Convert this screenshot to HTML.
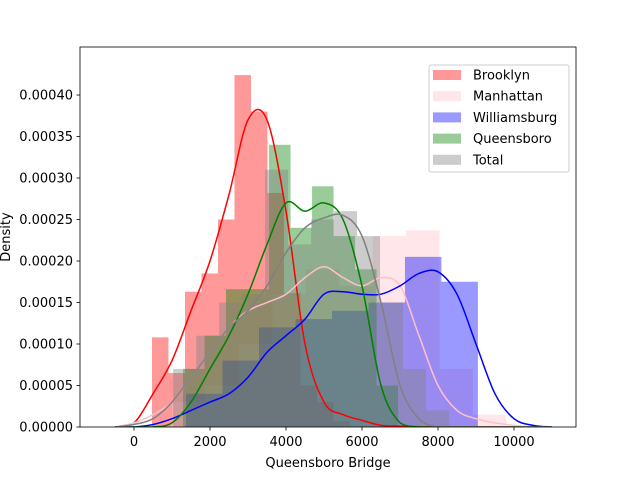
<!DOCTYPE html>
<html><head><meta charset="utf-8"><style>
body{margin:0;background:#fff}
svg{font-family:"DejaVu Sans","Liberation Sans",sans-serif;display:block}
</style></head><body>
<svg id="chart" width="640" height="480">
<rect x="0" y="0" width="640" height="480" fill="#fff"/>
<g id="plot"><g id="bars"></g><g id="lines"></g></g>
<g id="axes"></g>
</svg>
<script>
const tickX = [0, 2000, 4000, 6000, 8000, 10000];
const tickY = [0, 0.00005, 0.0001, 0.00015, 0.0002, 0.00025, 0.0003, 0.00035, 0.0004];
const tickYLabels = ["0.00000","0.00005","0.00010","0.00015","0.00020","0.00025","0.00030","0.00035","0.00040"];
const seriesNames = ["Brooklyn","Manhattan","Williamsburg","Queensboro","Total"];
const brooklynBinStart = 474, brooklynBinWidth = 434;
const brooklynHist = [0.000108,0.000065,0.000163,0.000185,0.00025,0.000424,0.00038,0.000282,0.000161,0.00005,0.00003,0.000007];
const manhattanBinStart = 1000, manhattanBinWidth = 880;
const manhattanHist = [0.00003,0.00005,0.0001,0.00016,0.00019,0.00017,0.00023,0.000237,0.00007,0.000015];
const williamsburgBinStart = 1370, williamsburgBinWidth = 960;
const williamsburgHist = [0.00004,0.00008,0.00012,0.00013,0.00014,0.00015,0.000205,0.000175];
const queensboroBinStart = 1290, queensboroBinWidth = 566;
const queensboroHist = [0.00007,0.00011,0.000166,0.000166,0.00034,0.00024,0.00029,0.00023,0.00019,0.00005];
const totalBinStart = 1030, totalBinWidth = 605;
const totalHist = [0.00007,0.00011,0.00015,0.00016,0.00031,0.00022,0.00025,0.00026,0.00023,0.00015,0.00007,0.00002];
const kdeX = [-500,0,500,1000,1500,2000,2500,3000,3500,4000,4500,5000,5500,6000,6500,7000,7500,8000,8500,9000,9500,10000,10500,11000];
const brooklynKde = [0,0.000005,0.00004,0.00008,0.00014,0.0002,0.00028,0.00037,0.00037,0.00026,0.0001,0.00003,0.000015,0.000008,0.000002,0.000001,0,0,0,0,0,0,0,0];
const manhattanKde = [0,0.000005,0.000015,0.00003,0.00006,0.00009,0.00012,0.00014,0.00015,0.00016,0.00018,0.000193,0.00018,0.00017,0.00018,0.00017,0.00011,0.00005,0.00002,0.00001,0.000005,0.000002,0,0];
const williamsburgKde = [0,0,0.000003,0.00001,0.00002,0.00003,0.00004,0.00006,0.00009,0.00011,0.00013,0.00016,0.000163,0.00016,0.00016,0.00017,0.000185,0.000187,0.00016,0.0001,0.00004,0.00001,0.000002,0];
const queensboroKde = [0,0,0,0.000005,0.00003,0.00007,0.00011,0.00016,0.00022,0.00027,0.00026,0.00027,0.00025,0.00017,0.00005,0.000005,0,0,0,0,0,0,0,0];
const totalKde = [0,0.000003,0.00001,0.00003,0.00006,0.00009,0.00012,0.00014,0.00017,0.00021,0.00024,0.000252,0.000255,0.00023,0.00015,0.00005,0.00001,0,0,0,0,0,0,0];

const X0=80,X1=576,Y0=47,Y1=427;
function sx(v){return 134+v*0.038;}
function sy(d){return 427-d*830000;}
const NS="http://www.w3.org/2000/svg";
function mk(tag,attrs,parent){const e=document.createElementNS(NS,tag);for(const k in attrs)e.setAttribute(k,attrs[k]);parent.appendChild(e);return e;}
const plot=document.getElementById('plot'), axes=document.getElementById('axes');
const barsG=document.getElementById('bars'), linesG=document.getElementById('lines');
const series=[
 {name:"brooklyn",hist:brooklynHist,start:brooklynBinStart,w:brooklynBinWidth,kde:brooklynKde,c:"#ff0000"},
 {name:"manhattan",hist:manhattanHist,start:manhattanBinStart,w:manhattanBinWidth,kde:manhattanKde,c:"#ffc0cb"},
 {name:"williamsburg",hist:williamsburgHist,start:williamsburgBinStart,w:williamsburgBinWidth,kde:williamsburgKde,c:"#0000ff"},
 {name:"queensboro",hist:queensboroHist,start:queensboroBinStart,w:queensboroBinWidth,kde:queensboroKde,c:"#008000"},
 {name:"total",hist:totalHist,start:totalBinStart,w:totalBinWidth,kde:totalKde,c:"#808080"}
];
series.forEach(s=>{
  s.hist.forEach((h,i)=>{
    const a=sx(s.start+i*s.w), b=sx(s.start+(i+1)*s.w);
    const r=mk('rect',{x:a,y:sy(h),width:b-a,height:sy(0)-sy(h),fill:s.c,'fill-opacity':0.4},barsG);
    
    
  });
  const pts=kdeX.map((x,i)=>[sx(x),sy(s.kde[i])]);
  let d="M"+pts[0][0]+","+pts[0][1];
  for(let i=0;i<pts.length-1;i++){
    const p0=pts[Math.max(i-1,0)],p1=pts[i],p2=pts[i+1],p3=pts[Math.min(i+2,pts.length-1)];
    const c1=[p1[0]+(p2[0]-p0[0])/6,p1[1]+(p2[1]-p0[1])/6], c2=[p2[0]-(p3[0]-p1[0])/6,p2[1]-(p3[1]-p1[1])/6];
    d+=` C${c1[0]},${Math.min(c1[1],427)} ${c2[0]},${Math.min(c2[1],427)} ${p2[0]},${p2[1]}`;
  }
  const l=mk('path',{d:d,fill:'none',stroke:s.c,'stroke-width':1.5},linesG);
  
  
});
const clip=mk('clipPath',{id:'cp'},document.getElementById('chart'));
mk('rect',{x:X0,y:Y0,width:X1-X0,height:Y1-Y0},clip);
plot.setAttribute('clip-path','url(#cp)');
mk('rect',{x:X0,y:Y0,width:X1-X0,height:Y1-Y0,fill:'none',stroke:'#000','stroke-width':0.8},axes);
tickX.forEach(v=>{
  mk('line',{x1:sx(v),x2:sx(v),y1:Y1,y2:Y1+3.5,stroke:'#000','stroke-width':0.8},axes);
  const t=mk('text',{x:sx(v),y:Y1+19,'font-size':13,'text-anchor':'middle'},axes);t.textContent=v;
  
  
});
tickY.forEach((v,i)=>{
  mk('line',{x1:X0-3.5,x2:X0,y1:sy(v),y2:sy(v),stroke:'#000','stroke-width':0.8},axes);
  const t=mk('text',{x:X0-7,y:sy(v)+4.5,'font-size':13,'text-anchor':'end'},axes);t.textContent=tickYLabels[i];
  
  
});
const xt=mk('text',{x:328,y:467,'font-size':13,'text-anchor':'middle'},axes);xt.textContent="Queensboro Bridge";


const yt=mk('text',{x:0,y:0,'font-size':13,'text-anchor':'middle',transform:'translate(10,237) rotate(-90)'},axes);yt.textContent="Density";


const lg=mk('g',{},axes);


mk('rect',{x:429,y:65,width:140,height:107,rx:2,fill:'#fff','fill-opacity':0.8,stroke:'#ccc'},lg);
series.forEach((s,i)=>{
  const y=75+i*21.2;
  mk('rect',{x:433,y:y-5,width:28,height:10,fill:s.c,'fill-opacity':0.4},lg);
  const t=mk('text',{x:473,y:y+4.5,'font-size':13},lg);t.textContent=seriesNames[i];
  
  
});
</script>
</body></html>
